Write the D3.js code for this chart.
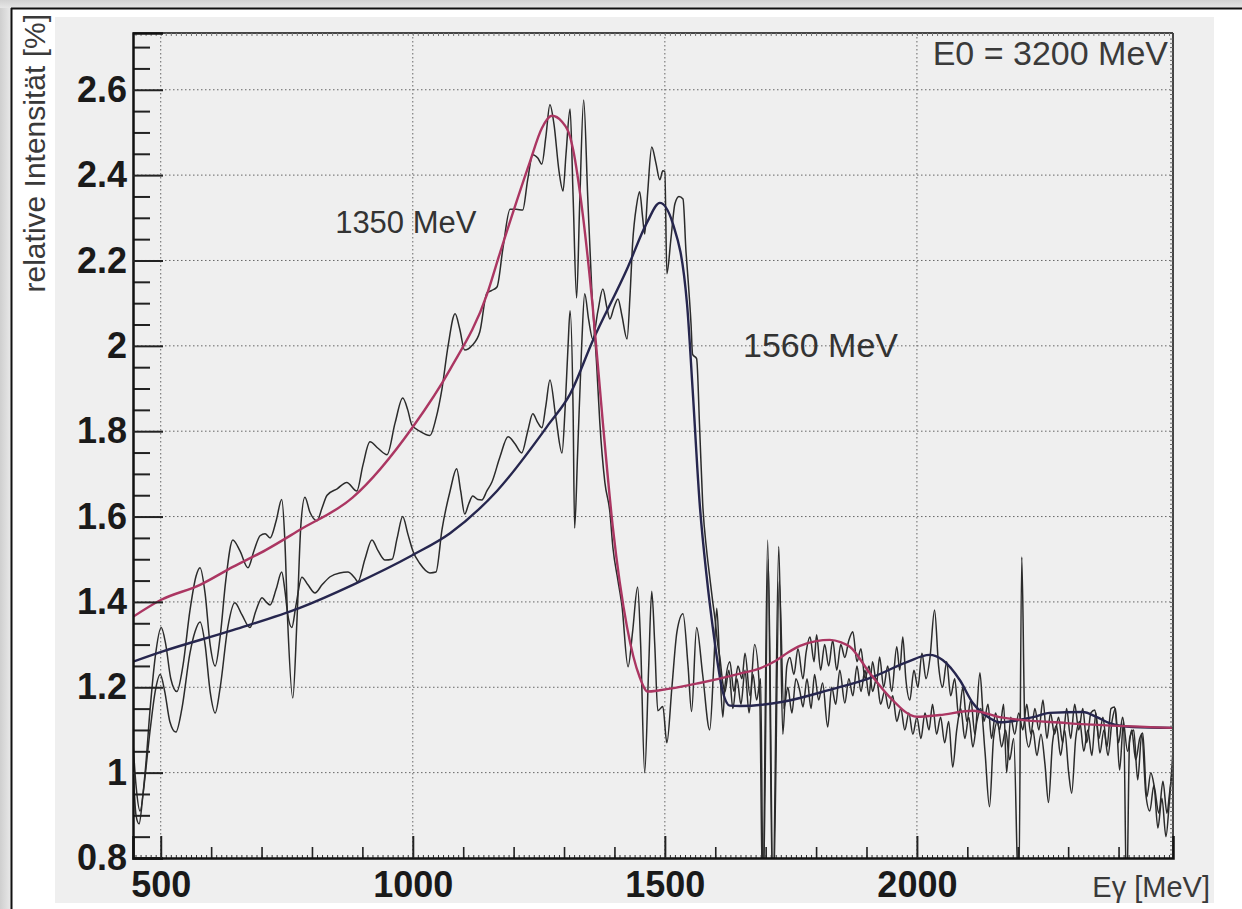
<!DOCTYPE html>
<html><head><meta charset="utf-8">
<script src="https://cdn.jsdelivr.net/npm/d3@7"></script>
<style>
html,body{margin:0;padding:0;background:#fff;}
svg{display:block;}
</style></head><body>
<svg id="chart" width="1242" height="909"></svg>
<script>
// ---------- data ----------
const xDomain = [445, 2508];
const yDomain = [0.8, 2.733];
const xMajorTicks = [500, 1000, 1500, 2000];
const xTickLabels = ["500", "1000", "1500", "2000"];
const yMajorTicks = [0.8, 1, 1.2, 1.4, 1.6, 1.8, 2, 2.2, 2.4, 2.6];
const yTickLabels = ["0.8", "1", "1.2", "1.4", "1.6", "1.8", "2", "2.2", "2.4", "2.6"];
const yTitle = "relative Intensität [%]";
const xTitle = "Eγ [MeV]";
const beamLabel = "E0 = 3200 MeV";
const seriesLabels = [
  {text: "1350 MeV", e: 846, v: 2.265, size: 31},
  {text: "1560 MeV", e: 1655, v: 1.974, size: 34}
];

// fitted curve, 1350 MeV setting
const fit1350 = [[445,1.365],[501,1.405],[578,1.44],[643,1.482],[709,1.522],[776,1.569],[881,1.645],[1000,1.81],[1074,1.945],[1147,2.12],[1173,2.218],[1232,2.43],[1256,2.51],[1276,2.539],[1296,2.525],[1312,2.49],[1318,2.46],[1337,2.31],[1357,2.09],[1377,1.82],[1397,1.573],[1425,1.341],[1450,1.224],[1466,1.19],[1490,1.193],[1569,1.21],[1649,1.232],[1690,1.245],[1720,1.262],[1745,1.282],[1768,1.297],[1800,1.308],[1827,1.311],[1850,1.305],[1867,1.295],[1906,1.234],[1946,1.177],[2000,1.131],[2045,1.135],[2111,1.145],[2164,1.13],[2297,1.116],[2508,1.105]];

// fitted curve, 1560 MeV setting
const fit1560 = [[445,1.26],[501,1.283],[643,1.334],[776,1.386],[881,1.44],[1000,1.51],[1074,1.561],[1167,1.66],[1272,1.82],[1312,1.887],[1357,2.012],[1425,2.18],[1465,2.29],[1490,2.335],[1516,2.286],[1544,2.098],[1555,1.90],[1569,1.632],[1583,1.459],[1595,1.341],[1615,1.189],[1629,1.157],[1649,1.156],[1734,1.166],[1827,1.194],[1912,1.224],[1980,1.259],[2025,1.276],[2051,1.264],[2085,1.217],[2111,1.163],[2144,1.128],[2164,1.118],[2230,1.13],[2263,1.14],[2329,1.142],[2357,1.13],[2382,1.116],[2428,1.107],[2508,1.105]];

// measured spectrum, 1350 MeV setting
const data1350 = [[445,1.07],[451,0.97],[459,0.91],[469,1.0],[479,1.15],[489,1.27],[501,1.34],[510,1.30],[520,1.22],[532,1.19],[544,1.25],[558,1.38],[570,1.46],[578,1.48],[588,1.42],[598,1.30],[608,1.25],[618,1.32],[629,1.45],[643,1.545],[657,1.52],[673,1.48],[685,1.52],[697,1.555],[707,1.56],[717,1.55],[729,1.59],[740,1.64],[746,1.55],[752,1.35],[762,1.175],[770,1.35],[778,1.58],[786,1.645],[796,1.61],[810,1.59],[820,1.62],[830,1.65],[850,1.665],[869,1.68],[889,1.66],[901,1.72],[915,1.775],[931,1.76],[949,1.745],[965,1.82],[980,1.878],[990,1.85],[998,1.815],[1014,1.80],[1034,1.79],[1046,1.83],[1058,1.90],[1070,2.0],[1084,2.075],[1093,2.04],[1103,1.99],[1117,2.0],[1133,2.033],[1147,2.124],[1157,2.13],[1167,2.138],[1179,2.23],[1193,2.32],[1205,2.32],[1218,2.318],[1228,2.39],[1238,2.448],[1248,2.44],[1256,2.426],[1264,2.49],[1272,2.565],[1280,2.52],[1290,2.41],[1298,2.363],[1304,2.45],[1312,2.555],[1318,2.35],[1325,2.112],[1331,2.33],[1339,2.576],[1347,2.35],[1355,2.133],[1365,1.95],[1371,1.82],[1381,1.68],[1391,1.61],[1397,1.527],[1407,1.45],[1415,1.39],[1427,1.248],[1436,1.33],[1446,1.435],[1452,1.30],[1460,1.0],[1468,1.25],[1474,1.425],[1480,1.30],[1486,1.145],[1496,1.155],[1504,1.07],[1514,1.20],[1524,1.33],[1536,1.372],[1546,1.25],[1553,1.143],[1563,1.34],[1575,1.23],[1589,1.10],[1597,1.25],[1603,1.385],[1609,1.25],[1615,1.13],[1619,1.20],[1629,1.26],[1637,1.19],[1645,1.25],[1653,1.22],[1659,1.28],[1669,1.18],[1678,1.30],[1688,1.19],[1694,0.70],[1704,1.545],[1714,0.70],[1726,1.53],[1734,1.09],[1742,1.25],[1748,1.27],[1756,1.23],[1764,1.29],[1774,1.22],[1780,1.28],[1788,1.318],[1796,1.26],[1801,1.323],[1809,1.24],[1817,1.30],[1825,1.25],[1833,1.31],[1841,1.24],[1849,1.30],[1857,1.27],[1865,1.31],[1873,1.33],[1881,1.26],[1889,1.29],[1897,1.22],[1905,1.25],[1912,1.19],[1920,1.22],[1928,1.16],[1936,1.19],[1944,1.15],[1952,1.18],[1960,1.12],[1968,1.15],[1976,1.10],[1984,1.14],[1992,1.09],[2000,1.13],[2008,1.08],[2016,1.14],[2024,1.10],[2031,1.16],[2039,1.09],[2047,1.13],[2055,1.07],[2063,1.12],[2071,1.013],[2079,1.10],[2087,1.15],[2095,1.08],[2103,1.13],[2111,1.06],[2119,1.12],[2127,1.15],[2135,1.05],[2144,0.92],[2152,1.08],[2160,1.12],[2168,1.06],[2176,1.10],[2184,1.03],[2192,1.08],[2202,0.70],[2208,1.505],[2214,1.12],[2222,1.06],[2230,1.10],[2238,1.04],[2246,1.09],[2254,1.02],[2261,0.93],[2269,1.07],[2277,1.11],[2285,1.04],[2293,1.10],[2301,1.00],[2307,0.952],[2315,1.08],[2323,1.12],[2331,1.05],[2339,1.10],[2347,1.04],[2355,1.14],[2363,1.046],[2371,1.10],[2379,1.04],[2387,1.12],[2394,1.15],[2402,1.006],[2410,1.12],[2416,0.70],[2422,1.08],[2430,1.10],[2438,0.983],[2446,1.09],[2454,0.95],[2462,0.91],[2470,0.97],[2478,0.87],[2486,0.94],[2494,0.85],[2500,0.92],[2508,1.05]];

// measured spectrum, 1560 MeV setting
const data1560 = [[445,1.02],[451,0.90],[457,0.88],[465,0.95],[479,1.10],[489,1.19],[499,1.23],[508,1.19],[518,1.12],[530,1.095],[542,1.15],[558,1.28],[568,1.33],[578,1.353],[588,1.30],[598,1.19],[608,1.14],[618,1.20],[633,1.34],[647,1.398],[661,1.37],[677,1.34],[689,1.38],[701,1.41],[709,1.40],[717,1.393],[729,1.43],[740,1.47],[746,1.43],[752,1.37],[760,1.34],[768,1.39],[780,1.458],[792,1.44],[806,1.421],[820,1.44],[836,1.459],[855,1.468],[871,1.47],[885,1.456],[891,1.447],[905,1.50],[919,1.545],[931,1.52],[945,1.498],[959,1.50],[969,1.55],[980,1.60],[990,1.56],[1000,1.52],[1014,1.49],[1034,1.468],[1046,1.47],[1058,1.57],[1074,1.66],[1087,1.712],[1095,1.66],[1103,1.606],[1111,1.63],[1119,1.648],[1129,1.64],[1137,1.639],[1147,1.66],[1157,1.681],[1173,1.74],[1189,1.787],[1203,1.77],[1216,1.749],[1228,1.80],[1238,1.841],[1248,1.82],[1256,1.808],[1264,1.86],[1272,1.92],[1284,1.83],[1296,1.749],[1302,1.85],[1308,2.00],[1312,2.082],[1318,1.85],[1321,1.573],[1327,1.75],[1335,2.00],[1341,2.122],[1349,2.06],[1357,2.016],[1367,2.08],[1377,2.133],[1385,2.09],[1391,2.063],[1399,2.09],[1407,2.11],[1415,2.07],[1425,2.016],[1431,2.12],[1436,2.239],[1444,2.33],[1450,2.361],[1456,2.30],[1460,2.262],[1466,2.36],[1474,2.466],[1482,2.43],[1490,2.389],[1496,2.41],[1500,2.408],[1504,2.169],[1512,2.25],[1520,2.333],[1528,2.35],[1536,2.344],[1542,2.22],[1546,2.157],[1552,2.05],[1555,1.98],[1563,1.97],[1569,1.808],[1575,1.632],[1583,1.52],[1589,1.459],[1595,1.40],[1599,1.365],[1605,1.30],[1609,1.271],[1615,1.21],[1619,1.189],[1627,1.24],[1635,1.15],[1643,1.22],[1651,1.16],[1659,1.24],[1667,1.14],[1675,1.23],[1682,1.17],[1690,1.22],[1695,0.70],[1705,1.50],[1715,0.70],[1727,1.45],[1736,1.15],[1744,1.20],[1752,1.14],[1760,1.22],[1768,1.19],[1774,1.154],[1782,1.22],[1790,1.15],[1797,1.23],[1805,1.17],[1813,1.21],[1823,1.107],[1831,1.20],[1839,1.16],[1847,1.24],[1857,1.163],[1865,1.22],[1873,1.18],[1881,1.25],[1889,1.19],[1897,1.24],[1905,1.18],[1912,1.26],[1920,1.21],[1926,1.271],[1934,1.20],[1942,1.25],[1950,1.19],[1960,1.295],[1966,1.24],[1972,1.318],[1978,1.22],[1986,1.17],[1994,1.24],[2002,1.20],[2010,1.28],[2018,1.22],[2026,1.27],[2035,1.381],[2043,1.25],[2051,1.20],[2059,1.26],[2067,1.18],[2075,1.22],[2083,1.13],[2091,1.20],[2099,1.12],[2107,1.17],[2115,1.09],[2125,1.234],[2133,1.12],[2141,1.16],[2148,1.08],[2156,1.14],[2164,1.10],[2172,1.16],[2178,1.00],[2186,1.13],[2194,1.09],[2202,1.14],[2210,1.10],[2218,1.16],[2226,1.09],[2234,1.15],[2242,1.10],[2250,1.17],[2258,1.08],[2265,1.14],[2273,1.09],[2281,1.13],[2289,1.07],[2297,1.15],[2305,1.08],[2313,1.16],[2321,1.10],[2329,1.15],[2337,1.07],[2345,1.14],[2353,1.147],[2361,1.08],[2369,1.13],[2377,1.06],[2385,1.15],[2392,1.154],[2400,1.07],[2408,1.13],[2418,1.05],[2426,1.10],[2434,1.03],[2442,1.08],[2448,1.093],[2456,0.943],[2464,1.00],[2472,0.96],[2480,0.905],[2488,0.98],[2496,0.905],[2501,0.95],[2508,1.02]];

// ---------- drawing ----------
const W = 1242, H = 909;
const plot = {left: 133, right: 1173, top: 33, bottom: 858};
const svg = d3.select("#chart");
const FONT = "'Liberation Sans', Arial, Helvetica, sans-serif";

// page decoration
svg.append("rect").attr("x",0).attr("y",0).attr("width",W).attr("height",H).attr("fill","#ffffff");
const defs = svg.append("defs");
const g1 = defs.append("linearGradient").attr("id","edgeL").attr("x1","0").attr("x2","1").attr("y1","0").attr("y2","0");
g1.append("stop").attr("offset","0").attr("stop-color","#cfcfcf");
g1.append("stop").attr("offset","1").attr("stop-color","#e9e9e9");
const g2 = defs.append("linearGradient").attr("id","edgeT").attr("x1","0").attr("x2","0").attr("y1","0").attr("y2","1");
g2.append("stop").attr("offset","0").attr("stop-color","#d2d2d2");
g2.append("stop").attr("offset","1").attr("stop-color","#e6e6e6");
svg.append("rect").attr("x",0).attr("y",0).attr("width",11).attr("height",H).attr("fill","url(#edgeL)");
svg.append("rect").attr("x",0).attr("y",0).attr("width",W).attr("height",8).attr("fill","url(#edgeT)");
svg.append("line").attr("x1",11.5).attr("x2",11.5).attr("y1",8).attr("y2",H).attr("stroke","#111").attr("stroke-width",2);
svg.append("line").attr("x1",11).attr("x2",W).attr("y1",8.5).attr("y2",8.5).attr("stroke","#111").attr("stroke-width",2);
svg.append("rect").attr("x",55).attr("y",17).attr("width",1159).attr("height",886).attr("fill","#efefef");

// scales
const x = d3.scaleLinear().domain(xDomain).range([plot.left, plot.right]);
const y = d3.scaleLinear().domain(yDomain).range([plot.bottom, plot.top]);

defs.append("clipPath").attr("id","plotClip").append("rect")
  .attr("x",plot.left).attr("y",plot.top).attr("width",plot.right-plot.left).attr("height",plot.bottom-plot.top);

// grid
const grid = svg.append("g").attr("stroke","#666").attr("stroke-width",1).attr("stroke-dasharray","1.5,2.5");
grid.selectAll(".gx").data(xMajorTicks).join("line")
  .attr("x1",d=>x(d)).attr("x2",d=>x(d)).attr("y1",plot.top).attr("y2",plot.bottom);
grid.selectAll(".gy").data(yMajorTicks.filter(v=>v>yDomain[0])).join("line")
  .attr("x1",plot.left).attr("x2",plot.right).attr("y1",d=>y(d)).attr("y2",d=>y(d));

// lines
const line = d3.line().x(d=>x(d[0])).y(d=>y(d[1])).curve(d3.curveMonotoneX);
const lines = svg.append("g").attr("clip-path","url(#plotClip)").attr("fill","none");
lines.append("path").datum(data1560).attr("d",line).attr("stroke","#2b2b2b").attr("stroke-width",1.5).attr("stroke-linejoin","round");
lines.append("path").datum(data1350).attr("d",line).attr("stroke","#2b2b2b").attr("stroke-width",1.5).attr("stroke-linejoin","round");
lines.append("path").datum(fit1560).attr("d",line).attr("stroke","#26264e").attr("stroke-width",2.4);
lines.append("path").datum(fit1350).attr("d",line).attr("stroke","#ab3662").attr("stroke-width",2.4);

// frame
const frame = svg.append("g");
frame.append("line").attr("x1",plot.left).attr("x2",plot.right).attr("y1",plot.top).attr("y2",plot.top).attr("stroke","#444").attr("stroke-width",2);
frame.append("line").attr("x1",plot.right).attr("x2",plot.right).attr("y1",plot.top).attr("y2",plot.bottom).attr("stroke","#444").attr("stroke-width",2);

// tiny ticks right and top
const yTiny = d3.range(81, 273).map(i=>i/100);
frame.append("g").attr("transform",`translate(${plot.right},0)`)
  .call(d3.axisRight(y).tickValues(yTiny).tickSize(-3).tickFormat(""))
  .call(g=>g.select(".domain").remove())
  .selectAll("line").attr("stroke","#666").attr("stroke-width",1);
const xTiny = d3.range(450, 2508, 10);
frame.append("g").attr("transform",`translate(0,${plot.top})`)
  .call(d3.axisTop(x).tickValues(xTiny).tickSize(-3).tickFormat(""))
  .call(g=>g.select(".domain").remove())
  .selectAll("line").attr("stroke","#777").attr("stroke-width",1);

// y axis minor ticks
const yMinor = d3.range(17, 55).map(i=>i*0.05).filter(v=>v<=yDomain[1] && Math.abs(v*5-Math.round(v*5))>1e-6);
svg.append("g").attr("transform",`translate(${plot.left},0)`)
  .call(d3.axisLeft(y).tickValues(yMinor).tickSize(-17).tickFormat(""))
  .call(g=>g.select(".domain").remove())
  .selectAll("line").attr("stroke","#222").attr("stroke-width",2);

// y axis majors
const yAxis = svg.append("g").attr("transform",`translate(${plot.left},0)`)
  .call(d3.axisLeft(y).tickValues(yMajorTicks).tickSize(-30).tickPadding(6)
    .tickFormat((d,i)=>yTickLabels[i]));
yAxis.select(".domain").attr("stroke","#111").attr("stroke-width",2.5);
yAxis.selectAll(".tick line").attr("stroke","#222").attr("stroke-width",2);
yAxis.selectAll("text").attr("font-family",FONT).attr("font-weight","bold").attr("font-size",36).attr("fill","#1a1a1a");

// x axis tiny and minor ticks
svg.append("g").attr("transform",`translate(0,${plot.bottom})`)
  .call(d3.axisBottom(x).tickValues(xTiny).tickSize(-3).tickFormat(""))
  .call(g=>g.select(".domain").remove())
  .selectAll("line").attr("stroke","#333").attr("stroke-width",1);
const xMinor = d3.range(500, 2508, 100).filter(v=>v%500!==0);
svg.append("g").attr("transform",`translate(0,${plot.bottom})`)
  .call(d3.axisBottom(x).tickValues(xMinor).tickSize(-11).tickFormat(""))
  .call(g=>g.select(".domain").remove())
  .selectAll("line").attr("stroke","#222").attr("stroke-width",1.6);

// x axis majors
const xAxis = svg.append("g").attr("transform",`translate(0,${plot.bottom})`)
  .call(d3.axisBottom(x).tickValues(xMajorTicks).tickSize(-22).tickPadding(13)
    .tickFormat((d,i)=>xTickLabels[i]));
xAxis.select(".domain").attr("stroke","#111").attr("stroke-width",2.5);
xAxis.selectAll(".tick line").attr("stroke","#222").attr("stroke-width",2);
xAxis.selectAll("text").attr("font-family",FONT).attr("font-weight","bold").attr("font-size",36).attr("fill","#1a1a1a");

// titles
svg.append("text").attr("transform","translate(45,14) rotate(-90)")
  .attr("text-anchor","end").attr("font-family",FONT).attr("font-size",30).attr("fill","#3a3a3a")
  .text(yTitle);
svg.append("text").attr("x",1210).attr("y",897).attr("text-anchor","end")
  .attr("font-family",FONT).attr("font-size",29).attr("fill","#3a3a3a").text(xTitle);
svg.append("text").attr("x",1168).attr("y",65).attr("text-anchor","end")
  .attr("font-family",FONT).attr("font-size",34).attr("fill","#3a3a3a").text(beamLabel);
svg.selectAll(".slab").data(seriesLabels).join("text")
  .attr("x",d=>x(d.e)).attr("y",d=>y(d.v))
  .attr("font-family",FONT).attr("font-size",d=>d.size).attr("fill","#333")
  .text(d=>d.text);
</script>
</body></html>
